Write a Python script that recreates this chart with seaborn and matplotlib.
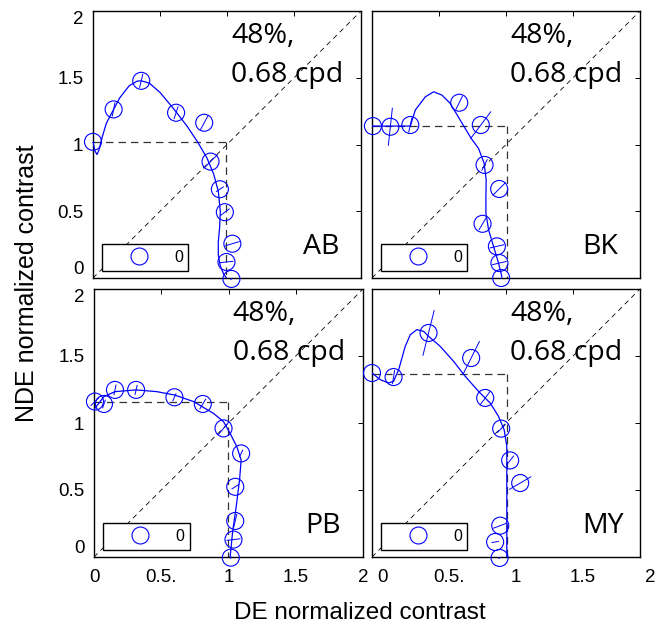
import numpy as np
import pandas as pd
import matplotlib
matplotlib.use("Agg")
import matplotlib.pyplot as plt
import seaborn as sns
from matplotlib.lines import Line2D
from matplotlib.transforms import ScaledTranslation

sns.set_style("white")
plt.rcParams['font.family'] = ['Liberation Sans', 'DejaVu Sans']
plt.rcParams['text.color'] = 'black'
plt.rcParams['axes.labelcolor'] = 'black'

# ---------------- data ----------------
panel_names = ["AB", "BK", "PB", "MY"]
condition_line1 = "48%,"
condition_line2 = "0.68 cpd"
legend_label = "0"
x_tick_labels = ["0", "0.5.", "1", "1.5", "2"]
y_tick_labels = ["0", "0.5", "1", "1.5", "2"]
tick_values = [0, 0.5, 1, 1.5, 2]

# AB
ab_de = [0.0, 0.154, 0.36, 0.62, 0.83, 0.877, 0.947, 0.984, 1.04, 0.996, 1.033]
ab_nde = [1.02, 1.263, 1.477, 1.238, 1.163, 0.872, 0.665, 0.493, 0.257, 0.12, -0.007]
ab_err_de = [0.01, 0.01, 0.012, 0.015, 0.028, 0.05, 0.027, 0.033, 0.053, 0.05, 0.005]
ab_err_nde = [0.0, 0.05, 0.05, 0.045, 0.052, 0.05, 0.018, 0.025, 0.016, 0.005, 0.005]
ab_fit_de = [0.0, 0.015, 0.03, 0.045, 0.07, 0.1, 0.154, 0.2, 0.27, 0.33, 0.36, 0.42, 0.5, 0.6,
             0.7, 0.78, 0.85, 0.9, 0.935, 0.95, 0.945, 0.935, 0.935, 0.95, 0.975, 0.996]
ab_fit_nde = [1.02, 0.95, 0.925, 0.96, 1.06, 1.16, 1.263, 1.35, 1.44, 1.475, 1.477, 1.46, 1.39,
              1.27, 1.14, 1.02, 0.9, 0.78, 0.65, 0.5, 0.38, 0.27, 0.17, 0.09, 0.03, 0.0]
ab_thr_de, ab_thr_nde = 0.996, 1.02

# BK
bk_de = [0.007, 0.137, 0.286, 0.651, 0.812, 0.84, 0.949, 0.825, 0.932, 0.951, 0.964]
bk_nde = [1.138, 1.133, 1.146, 1.313, 1.146, 0.847, 0.667, 0.406, 0.237, 0.112, 0.0]
bk_err_de = [0.005, 0.015, 0.012, 0.025, 0.075, 0.02, 0.046, 0.026, 0.052, 0.052, 0.005]
bk_err_nde = [0.0, 0.14, 0.053, 0.05, 0.10, 0.04, 0.046, 0.044, 0.012, 0.012, 0.005]
bk_fit_de = [0.0, 0.286, 0.323, 0.398, 0.46, 0.522, 0.584, 0.658, 0.74, 0.795, 0.837, 0.852,
             0.85, 0.85, 0.87, 0.907, 0.944, 0.969]
bk_fit_nde = [1.138, 1.138, 1.258, 1.357, 1.395, 1.37, 1.308, 1.183, 1.046, 0.971, 0.859,
              0.735, 0.585, 0.486, 0.361, 0.237, 0.112, 0.012]
bk_thr_de, bk_thr_nde = 1.006, 1.138

# PB
pb_de = [0.007, 0.074, 0.156, 0.313, 0.598, 0.809, 0.963, 1.094, 1.05, 1.05, 1.037, 1.017]
pb_nde = [1.16, 1.142, 1.247, 1.247, 1.192, 1.142, 0.96, 0.773, 0.524, 0.269, 0.13, -0.005]
pb_err_de = [0.03, 0.01, 0.008, 0.008, 0.012, 0.022, 0.037, 0.012, 0.025, 0.012, 0.05, 0.005]
pb_err_nde = [0.03, 0.03, 0.037, 0.035, 0.027, 0.037, 0.045, 0.025, 0.016, 0.05, 0.006, 0.005]
pb_fit_de = [0.007, 0.074, 0.156, 0.313, 0.467, 0.598, 0.74, 0.888, 0.963, 1.012, 1.062,
             1.094, 1.082, 1.057, 1.032, 1.012]
pb_fit_nde = [1.11, 1.197, 1.234, 1.247, 1.234, 1.209, 1.16, 1.072, 1.01, 0.923, 0.823,
              0.723, 0.574, 0.374, 0.2, 0.0]
pb_thr_de, pb_thr_nde = 0.995, 1.16

# MY
my_de = [0.0, 0.161, 0.422, 0.74, 0.845, 0.964, 1.031, 1.106, 0.957, 0.919, 0.952]
my_nde = [1.373, 1.343, 1.672, 1.485, 1.187, 0.958, 0.721, 0.552, 0.234, 0.112, -0.007]
my_err_de = [0.0, 0.008, 0.042, 0.062, 0.037, 0.03, 0.027, 0.08, 0.05, 0.025, 0.005]
my_err_nde = [0.0, 0.05, 0.168, 0.124, 0.05, 0.03, 0.034, 0.047, 0.019, 0.004, 0.005]
my_fit_de = [0.0, 0.062, 0.124, 0.161, 0.199, 0.248, 0.286, 0.335, 0.385, 0.422, 0.509, 0.609,
             0.696, 0.795, 0.882, 0.944, 0.986, 1.006, 1.006, 1.006, 1.006, 1.006]
my_fit_nde = [1.373, 1.323, 1.299, 1.311, 1.398, 1.572, 1.659, 1.697, 1.684, 1.647, 1.572,
              1.46, 1.348, 1.236, 1.149, 1.05, 0.95, 0.826, 0.677, 0.478, 0.279, 0.0]
my_thr_de, my_thr_nde = 1.006, 1.366

panels = {
    "AB": (ab_de, ab_nde, ab_err_de, ab_err_nde, ab_fit_de, ab_fit_nde, ab_thr_de, ab_thr_nde),
    "BK": (bk_de, bk_nde, bk_err_de, bk_err_nde, bk_fit_de, bk_fit_nde, bk_thr_de, bk_thr_nde),
    "PB": (pb_de, pb_nde, pb_err_de, pb_err_nde, pb_fit_de, pb_fit_nde, pb_thr_de, pb_thr_nde),
    "MY": (my_de, my_nde, my_err_de, my_err_nde, my_fit_de, my_fit_nde, my_thr_de, my_thr_nde),
}

# ---------------- layout ----------------
W, H = 670, 629
fig = plt.figure(figsize=(W / 100, H / 100), dpi=100)
rects = {
    "AB": (93, 11, 361, 278),
    "BK": (372, 11, 640, 278),
    "PB": (94, 289, 363, 557),
    "MY": (372, 289, 640, 557),
}
blue = "#0000ff"
label_font = ['Open Sans', 'DejaVu Sans']

for name in panel_names:
    l, t, r, b = rects[name]
    ax = fig.add_axes([l / W, 1 - b / H, (r - l) / W, (b - t) / H])
    de, nde, edx, edy, fde, fnde, tde, tnde = panels[name]

    # diagonal and threshold box
    ax.plot([0, 2], [0, 2], ls=(0, (6, 5)), color="black", lw=0.6, zorder=1)
    ax.plot([0, tde], [tnde, tnde], ls=(0, (6, 4)), color="#333333", lw=0.9, zorder=1)
    ax.plot([tde, tde], [tnde, 0], ls=(0, (6, 4)), color="#333333", lw=0.9, zorder=1)

    # fitted curve
    fit_df = pd.DataFrame({"DE": fde, "NDE": fnde})
    sns.lineplot(data=fit_df, x="DE", y="NDE", sort=False, estimator=None,
                 color=blue, lw=0.9, ax=ax, zorder=3)

    # error segments
    for xi, yi, dx, dy in zip(de, nde, edx, edy):
        ax.plot([xi - dx, xi + dx], [yi - dy, yi + dy], color=blue, lw=0.7,
                clip_on=False, zorder=3)

    # data points
    pts = pd.DataFrame({"DE": de, "NDE": nde})
    sns.scatterplot(data=pts, x="DE", y="NDE", ax=ax, marker="o", s=150,
                    facecolor="none", edgecolor=blue, linewidth=0.8, zorder=4)
    for coll in ax.collections:
        coll.set_clip_on(False)

    ax.set_xlim(0, 2)
    ax.set_ylim(0, 2)
    ax.set_xlabel("")
    ax.set_ylabel("")
    ax.set_xticks(tick_values)
    ax.set_yticks(tick_values)
    if name in ("PB", "MY"):
        ax.set_xticklabels(x_tick_labels)
    else:
        ax.set_xticklabels([])
    if name in ("AB", "PB"):
        ax.set_yticklabels(y_tick_labels)
    else:
        ax.set_yticklabels([])
    ax.tick_params(axis="both", direction="in", length=3.5, width=0.7, top=True,
                   right=True, labelsize=13.5, colors="black")
    ax.tick_params(axis="x", pad=9)
    ax.tick_params(axis="y", pad=7)
    for sp in ax.spines.values():
        sp.set_visible(True)
        sp.set_color("black")
        sp.set_linewidth(1.0)
    if name in ("AB", "PB"):
        ylabs = ax.get_yticklabels()
        ylabs[0].set_va("bottom")
        ylabs[-1].set_va("top")
    if name == "MY":
        off = ScaledTranslation(0.10, 0, fig.dpi_scale_trans)
        for lab in ax.get_xticklabels():
            lab.set_transform(lab.get_transform() + off)

    # texts
    ax.text(1.03, 1.76, condition_line1, fontsize=20.5, family=label_font,
            color="black", ha="left", va="baseline", zorder=5)
    ax.text(1.03, 1.47, condition_line2, fontsize=20.5, family=label_font,
            color="black", ha="left", va="baseline", zorder=5)
    ax.text(1.57, 0.18, name, fontsize=20.5, family=label_font,
            color="black", ha="left", va="baseline", zorder=5)

    # legend
    handle = Line2D([], [], ls="none", marker="o", ms=12.2, mfc="none", mec=blue, mew=0.8)
    leg = ax.legend(handles=[handle], labels=[legend_label], loc="lower left",
                    bbox_to_anchor=(0.0335, 0.0275, 0.322, 0.107), mode="expand",
                    borderaxespad=0, frameon=True, fancybox=False, framealpha=1,
                    edgecolor="black", fontsize=11.5, handlelength=3.9,
                    handletextpad=0.3, borderpad=0.35, labelcolor="black")
    leg.get_frame().set_linewidth(1.0)
    leg.set_zorder(10)

fig.text(360 / W, 1 - 613 / H, "DE normalized contrast", fontsize=17.5,
         color="black", ha="center", va="center")
fig.text(27 / W, 1 - 283 / H, "NDE normalized contrast", fontsize=18,
         color="black", ha="center", va="center", rotation=90)

fig.savefig("out.png", dpi=100)
